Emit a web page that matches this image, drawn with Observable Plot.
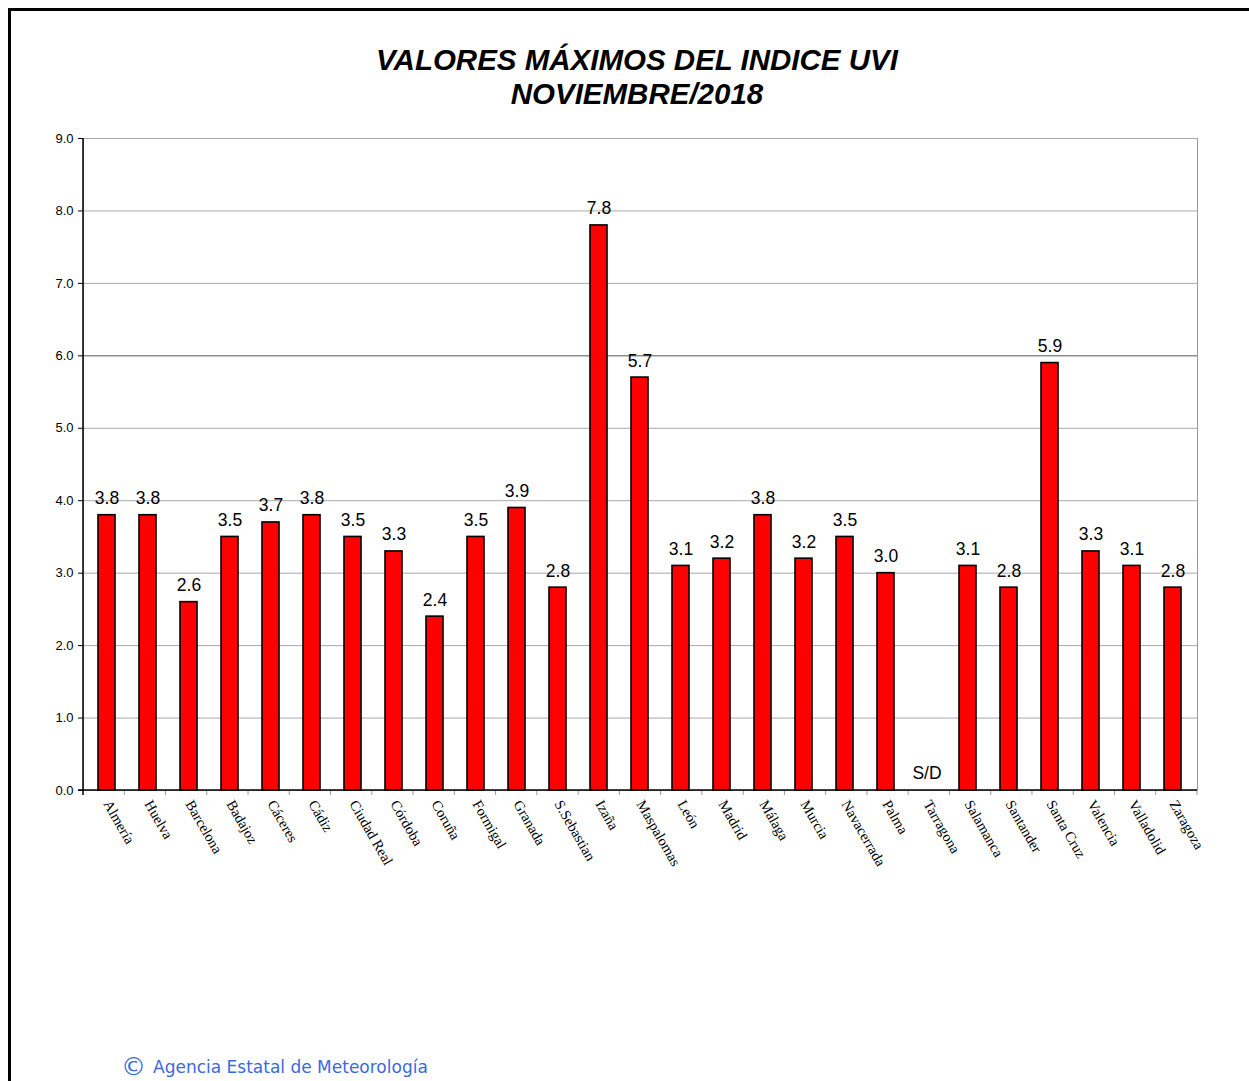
<!DOCTYPE html>
<html><head><meta charset="utf-8">
<script src="https://cdn.jsdelivr.net/npm/d3@7"></script>
<script src="https://cdn.jsdelivr.net/npm/@observablehq/plot@0.6"></script>
<style>
html,body{margin:0;padding:0;background:#fff;}
#page{position:relative;width:1249px;height:1081px;overflow:hidden;background:#fff;}
#frame{position:absolute;left:8px;top:8px;width:1300px;height:1200px;border-top:3px solid #000;border-left:3px solid #000;box-sizing:border-box;pointer-events:none;}
#title{position:absolute;left:0;top:43px;width:1274px;text-align:center;font-family:"Liberation Sans",Arial,sans-serif;font-weight:bold;font-style:italic;font-size:29.5px;line-height:34px;color:#000;}
#chart{position:absolute;left:0;top:120px;}
#footer{position:absolute;left:121px;top:1055px;height:24px;line-height:24px;font-family:"DejaVu Sans",Verdana,sans-serif;font-size:17px;color:#3a6ae0;white-space:nowrap;}
#footer .c{display:inline-block;font-size:25px;line-height:24px;height:24px;vertical-align:top;margin-right:7px;}
</style></head>
<body><div id="page">
<div id="title">VALORES MÁXIMOS DEL INDICE UVI<br>NOVIEMBRE/2018</div>
<div id="chart"></div>
<div id="footer"><span class="c">©</span>Agencia Estatal de Meteorología</div>
<div id="frame"></div>
</div>
<script>
const cities = ["Almería","Huelva","Barcelona","Badajoz","Cáceres","Cádiz","Ciudad Real","Córdoba","Coruña","Formigal","Granada","S.Sebastian","Izaña","Maspalomas","León","Madrid","Málaga","Murcia","Navacerrada","Palma","Tarragona","Salamanca","Santander","Santa Cruz","Valencia","Valladolid","Zaragoza"];
const values = [3.8,3.8,2.6,3.5,3.7,3.8,3.5,3.3,2.4,3.5,3.9,2.8,7.8,5.7,3.1,3.2,3.8,3.2,3.5,3.0,null,3.1,2.8,5.9,3.3,3.1,2.8];
const missingLabel = "S/D";
const yTicks = [0,1,2,3,4,5,6,7,8,9];

const data = cities.map((c,i)=>({city:c, v:values[i], label: values[i]==null ? missingLabel : values[i].toFixed(1)}));
const bars = data.filter(d=>d.v!=null);
const missing = data.filter(d=>d.v==null);

const axesLines = (index, scales, values, dims) => {
  const g = d3.create("svg:g");
  const left = dims.marginLeft, right = dims.width - dims.marginRight;
  const bottom = dims.height - dims.marginBottom, top = dims.marginTop;
  const n = cities.length, step = (right-left)/n;
  for (let i=1;i<=n;i++){
    g.append("line").attr("x1",left+i*step).attr("x2",left+i*step).attr("y1",bottom).attr("y2",bottom+5).attr("stroke","#999");
  }
  g.append("line").attr("x1",left).attr("x2",left).attr("y1",top).attr("y2",bottom+5).attr("stroke","#000").attr("stroke-width",1.5);
  g.append("line").attr("x1",left-5).attr("x2",right).attr("y1",bottom).attr("y2",bottom).attr("stroke","#000").attr("stroke-width",1.5);
  return g.node();
};

const chart = Plot.plot({
  width:1249, height:880,
  marginLeft:83, marginRight:52, marginTop:18, marginBottom:210,
  style:{fontFamily:"'Liberation Sans', Arial, sans-serif", background:"white", color:"black"},
  x:{domain:cities, paddingInner:0.58, paddingOuter:0.29, label:null},
  y:{domain:[0,9], label:null},
  marks:[
    Plot.frame({stroke:"#999"}),
    Plot.ruleY(yTicks.filter(t=>t>0 && t!==6), {stroke:"#a8a8a8"}),
    Plot.ruleY(yTicks.filter(t=>t===6), {stroke:"#555"}),
    Plot.barY(bars, {x:"city", y:"v", fill:"#ff0000", stroke:"#000", strokeWidth:1.6}),
    Plot.text(bars, {x:"city", y:"v", text:"label", lineAnchor:"bottom", dy:-11, fontSize:17.5, fill:"#000"}),
    Plot.text(missing, {x:"city", y:d=>0, text:"label", lineAnchor:"bottom", dy:-12, fontSize:17.5, fill:"#000"}),
    Plot.axisY({ticks:yTicks, tickFormat:d=>d.toFixed(1), tickSize:5, tickPadding:5, fontSize:13}),
    Plot.axisX({tickSize:0, tickRotate:60, tickPadding:11, fontSize:14.5, fontFamily:"'Liberation Serif', 'Times New Roman', serif", label:null}),
    axesLines
  ]
});
document.getElementById("chart").appendChild(chart);
</script>
</body></html>
